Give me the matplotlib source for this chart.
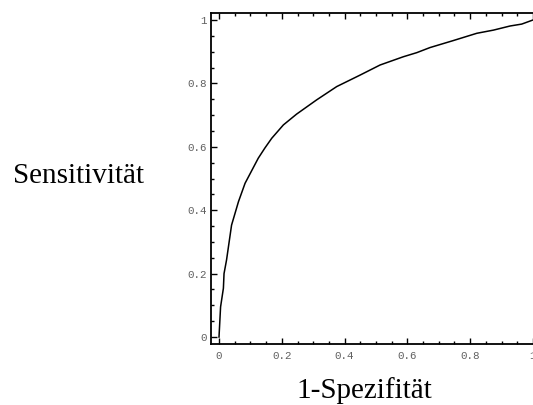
import matplotlib
matplotlib.use("Agg")
import matplotlib.pyplot as plt
from matplotlib.ticker import MultipleLocator, FixedLocator

# ROC curve: false positive rate (1 - specificity) vs. sensitivity
fpr = [0.0, 0.005, 0.014, 0.016, 0.024, 0.040, 0.062, 0.083, 0.125, 0.146,
       0.168, 0.205, 0.247, 0.311, 0.375, 0.449, 0.513, 0.587, 0.630, 0.672,
       0.746, 0.821, 0.874, 0.927, 0.964, 1.0]
tpr = [0.0, 0.095, 0.154, 0.200, 0.243, 0.353, 0.427, 0.485, 0.564, 0.596,
       0.627, 0.669, 0.703, 0.748, 0.790, 0.826, 0.858, 0.884, 0.897, 0.913,
       0.935, 0.958, 0.968, 0.981, 0.987, 1.0]

x_ticks = [0, 0.2, 0.4, 0.6, 0.8, 1]
x_tick_labels = ["0", "0.2", "0.4", "0.6", "0.8", "1"]
y_ticks = [0, 0.2, 0.4, 0.6, 0.8, 1]
y_tick_labels = ["0", "0.2", "0.4", "0.6", "0.8", "1"]

W, H = 533, 405
fig = plt.figure(figsize=(W / 100, H / 100), dpi=100)
fig.patch.set_facecolor("white")

# frame extends a little beyond the data range on every side
left_px, right_px, top_px, bottom_px = 211, 541, 13, 344
ax = fig.add_axes([left_px / W, (H - bottom_px) / H,
                   (right_px - left_px) / W, (bottom_px - top_px) / H])

ax.plot(fpr, tpr, color="black", lw=1.1)

ax.set_xlim(-0.0255, 1.0255)
ax.set_ylim(-0.022, 1.022)

ax.xaxis.set_major_locator(FixedLocator(x_ticks))
ax.yaxis.set_major_locator(FixedLocator(y_ticks))
ax.xaxis.set_minor_locator(MultipleLocator(0.05))
ax.yaxis.set_minor_locator(MultipleLocator(0.05))
ax.set_xticklabels(x_tick_labels)
ax.set_yticklabels(y_tick_labels)

for lbl in ax.get_xticklabels() + ax.get_yticklabels():
    lbl.set_fontfamily("Liberation Mono")
    lbl.set_fontsize(7.8)
    lbl.set_color("#606060")

ax.tick_params(which="both", direction="in", top=True, right=True,
               color="black", width=1.0)
ax.tick_params(which="major", length=4, pad=5)
ax.tick_params(which="minor", length=2)
ax.tick_params(axis="y", which="major", pad=3)

for sp in ax.spines.values():
    sp.set_linewidth(1.3)
    sp.set_color("black")

fig.text(13 / W, 1 - 176 / H, "Sensitivität", family="Liberation Serif",
         fontsize=21, ha="left", va="center")
fig.text(364 / W, 1 - 391 / H, "1-Spezifität", family="Liberation Serif",
         fontsize=21, ha="center", va="center")

fig.savefig("out.png", dpi=100)
